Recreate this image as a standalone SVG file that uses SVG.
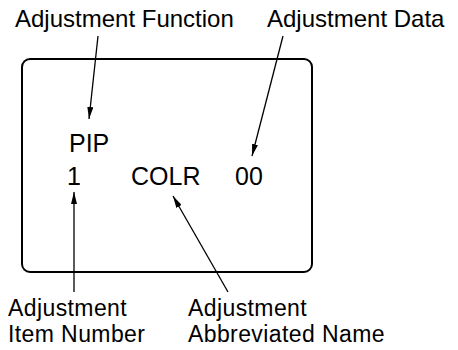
<svg xmlns="http://www.w3.org/2000/svg" width="458" height="350" viewBox="0 0 458 350">
<style>
text{font-family:"Liberation Sans",Arial,sans-serif;fill:#000}
.lbl{font-size:24px}
.lbl2{font-size:23px;letter-spacing:0.4px}
.scr{font-size:25px}
.ln{stroke:#000;stroke-width:1.3;fill:none}
</style>
<defs>
<marker id="ah" viewBox="0 0 12 6" refX="12" refY="3" markerWidth="12" markerHeight="6" markerUnits="userSpaceOnUse" orient="auto">
<path d="M0,0 L12,3 L0,6 Z" fill="#000"/>
</marker>
</defs>
<g id="screen">
<rect x="22" y="59" width="290" height="213" rx="8" ry="8" fill="none" stroke="#000" stroke-width="2"/>
</g>
<g id="label-function"><text class="lbl" x="15" y="27">Adjustment Function</text></g>
<g id="label-data"><text class="lbl" x="267" y="27">Adjustment Data</text></g>
<g id="pip"><text class="scr" x="69" y="152">PIP</text></g>
<g id="item-number"><text class="scr" x="67" y="185">1</text></g>
<g id="colr"><text class="scr" x="131" y="185">COLR</text></g>
<g id="data"><text class="scr" x="235" y="185">00</text></g>
<g id="label-item"><text class="lbl2" x="8" y="316">Adjustment</text><text class="lbl2" x="8" y="342">Item Number</text></g>
<g id="label-abbr"><text class="lbl2" x="188" y="316">Adjustment</text><text class="lbl2" x="188" y="342">Abbreviated Name</text></g>
<g id="connectors">
<line class="ln" x1="98" y1="36" x2="89" y2="119" marker-end="url(#ah)"/>
<line class="ln" x1="283" y1="36" x2="252" y2="156" marker-end="url(#ah)"/>
<line class="ln" x1="74" y1="292" x2="74" y2="192" marker-end="url(#ah)"/>
<line class="ln" x1="228" y1="292" x2="173" y2="196" marker-end="url(#ah)"/>
</g>
</svg>
